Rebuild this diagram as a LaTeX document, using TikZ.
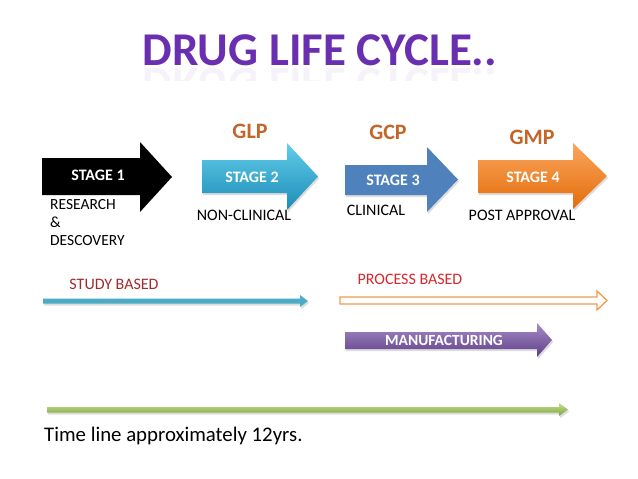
\documentclass[tikz,border=0pt]{standalone}
\usepackage{fontspec}
\setmainfont{Carlito}
\usetikzlibrary{shadows}
\definecolor{titlepurple}{HTML}{6A2EB0}
\definecolor{gxp}{HTML}{C4662A}
\definecolor{stwoTop}{HTML}{62CDEB}
\definecolor{stwoBot}{HTML}{1C8CB6}
\definecolor{sthree}{HTML}{4F81BD}
\definecolor{sfourTop}{HTML}{FAA65E}
\definecolor{sfourBot}{HTML}{E46C0A}
\definecolor{studyblue}{HTML}{4BACC6}
\definecolor{studyred}{HTML}{A22A2C}
\definecolor{procred}{HTML}{D9282E}
\definecolor{procorange}{HTML}{F39A4E}
\definecolor{mfgTop}{HTML}{A68BC8}
\definecolor{mfgBot}{HTML}{5E3F86}
\definecolor{greenTop}{HTML}{C6DE94}
\definecolor{greenBot}{HTML}{7FA23A}
% #1 style, #2 left x, #3 body top, #4 body bottom, #5 head base x, #6 head top, #7 head bottom, #8 tip x
\newcommand\blockarrowpath[8]{\path[#1] (#2,#3) -- (#5,#3) -- (#5,#6) -- (#8,{(#6+#7)/2}) -- (#5,#7) -- (#5,#4) -- (#2,#4) -- cycle;}
\tikzset{
  stagetext/.style={text=white, font=\bfseries\fontsize{16}{16}\selectfont, inner sep=0pt},
  gxptext/.style={text=gxp, font=\bfseries\fontsize{22}{22}\selectfont, inner sep=0pt},
  labeltext/.style={text=black, font=\fontsize{16}{18}\selectfont, inner sep=0pt},
  softshadow/.style={drop shadow={opacity=0.22, shadow xshift=1.2pt, shadow yshift=-2pt, fill=black!60}},
}
\begin{document}
\begin{tikzpicture}[x=1pt, y=-1pt]
\useasboundingbox[fill=white] (0,0) rectangle (638,479);

% title and reflection
\node[text=titlepurple, font=\bfseries\fontsize{47}{47}\selectfont, anchor=base, inner sep=0pt] (title) at (320,65) {DRUG LIFE CYCLE..};
\begin{scope}
  \clip (100,66) rectangle (540,80);
  \begin{scope}[yscale=-1, transform shape]
    \node[text=titlepurple, opacity=0.06, font=\bfseries\fontsize{47}{47}\selectfont, anchor=base, inner sep=0pt] (titlerefl) at (320,-68) {DRUG LIFE CYCLE..};
  \end{scope}
\end{scope}

% stage arrows
\blockarrowpath{fill=black}{42}{158}{195}{140}{142}{212}{172}
\blockarrowpath{shade, top color=stwoTop, bottom color=stwoBot, softshadow}{202}{160}{193}{287}{143}{210}{318}
\blockarrowpath{fill=sthree, softshadow}{345}{165}{195}{427}{147}{212}{458}
\blockarrowpath{shade, top color=sfourTop, bottom color=sfourBot, softshadow}{478}{160}{193}{573}{143}{209}{607}

\node[stagetext] (s1) at (98,175) {STAGE 1};
\node[stagetext] (s2) at (252,177) {STAGE 2};
\node[stagetext] (s3) at (393,180) {STAGE 3};
\node[stagetext] (s4) at (533,177) {STAGE 4};

\node[gxptext] (glp) at (250,131) {GLP};
\node[gxptext] (gcp) at (388,132) {GCP};
\node[gxptext] (gmp) at (532,137) {GMP};

\node[labeltext, font=\fontsize{15.5}{18}\selectfont, align=left, anchor=west] (rd) at (50,223) {RESEARCH\\\&\\DESCOVERY};
\node[labeltext] (nonclin) at (244,215) {NON-CLINICAL};
\node[labeltext] (clin) at (376,210) {CLINICAL};
\node[labeltext] (post) at (522,215) {POST APPROVAL};

% study / process based
\node[labeltext, text=studyred] (study) at (114,284) {STUDY BASED};
\node[labeltext, text=procred] (process) at (410,279) {PROCESS BASED};
\blockarrowpath{fill=studyblue, softshadow}{43}{298.5}{303.5}{300}{295}{307}{308}
\blockarrowpath{draw=procorange, line width=1.3pt, fill=white, line join=miter}{340}{297}{304}{597}{291}{310}{607}

% manufacturing
\blockarrowpath{shade, top color=mfgTop, bottom color=mfgBot, softshadow}{345}{332}{349}{537}{323}{357}{552}
\node[stagetext, font=\bfseries\fontsize{15.5}{15.5}\selectfont] (mfg) at (444,340.5) {MANUFACTURING};

% time line
\blockarrowpath{shade, top color=greenTop, bottom color=greenBot, softshadow}{47}{407}{412.5}{559}{403}{416}{568}
\node[text=black, font=\fontsize{20.8}{20.8}\selectfont, anchor=base west, inner sep=0pt] (timeline) at (44,441) {Time line approximately 12yrs.};
\end{tikzpicture}
\end{document}
